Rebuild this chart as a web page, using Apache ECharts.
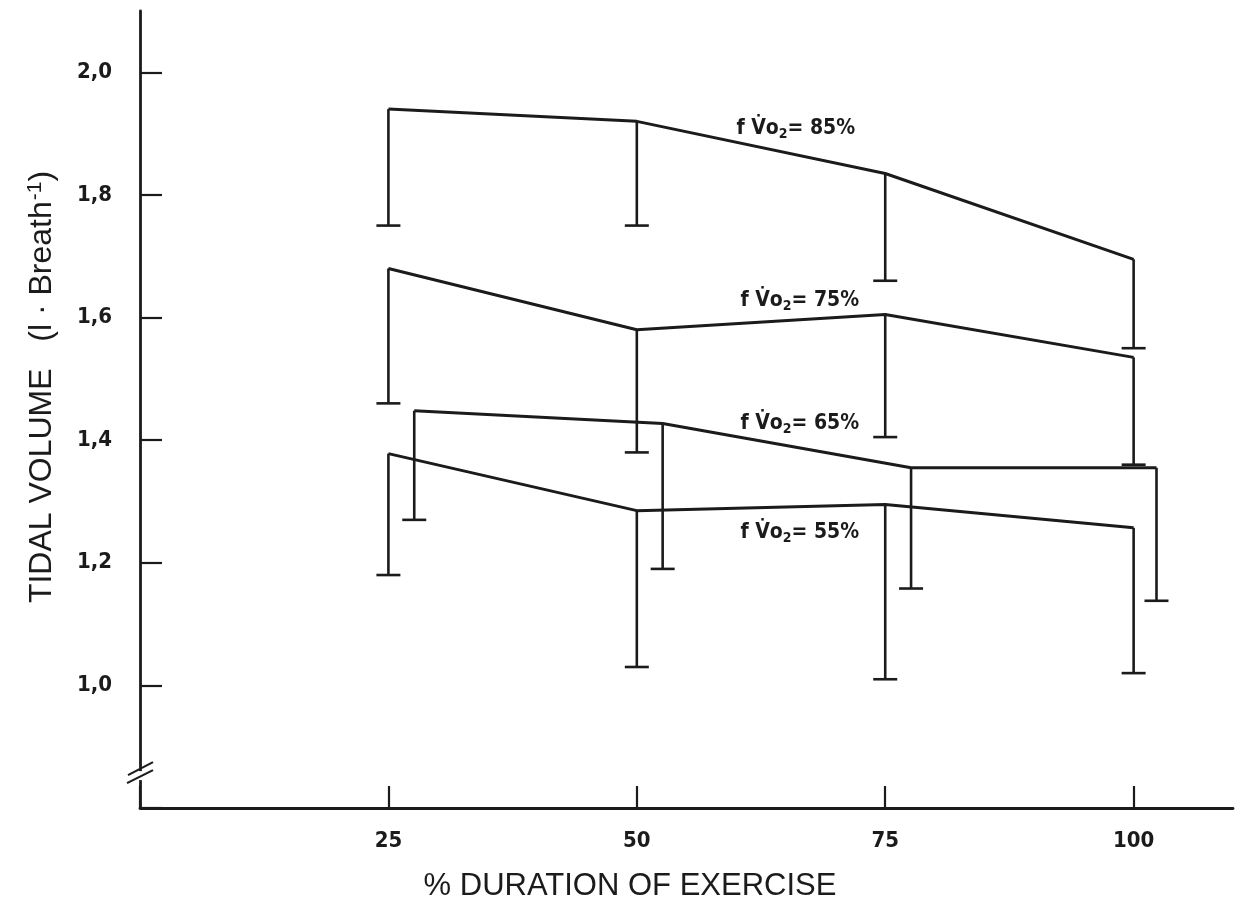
<!DOCTYPE html>
<html>
<head>
<meta charset="utf-8">
<script src="https://cdn.jsdelivr.net/npm/echarts@6/dist/echarts.min.js"></script>
<style>
html,body{margin:0;padding:0;background:#fff;}
#c{width:1253px;height:908px;}
</style>
</head>
<body>
<div id="c"></div>
<script>
// ---- data ----
const xTicks = [25, 50, 75, 100];
const yTicks = [1.0, 1.2, 1.4, 1.6, 1.8, 2.0];
const x85 = [25, 50, 75, 100];
const mean85 = [1.94, 1.92, 1.835, 1.695];
const low85 = [1.75, 1.75, 1.66, 1.55];
const x75 = [25, 50, 75, 100];
const mean75 = [1.68, 1.58, 1.605, 1.535];
const low75 = [1.46, 1.38, 1.405, 1.36];
const x65 = [27.6, 52.6, 77.6, 102.3];
const mean65 = [1.448, 1.427, 1.355, 1.355];
const low65 = [1.27, 1.19, 1.158, 1.138];
const x55 = [25, 50, 75, 100];
const mean55 = [1.378, 1.285, 1.295, 1.257];
const low55 = [1.18, 1.03, 1.01, 1.02];
const seriesNames = ['85%', '75%', '65%', '55%'];
const labelX = [66.0, 66.4, 66.4, 66.4];
const labelY = [1.908, 1.628, 1.427, 1.25];
const breakY = 0.852;

const INK = '#1b1b1b';
const tickFont = "'Liberation Sans Narrow','DejaVu Sans Condensed',sans-serif";
const titleFont = "'Liberation Sans','Arial',sans-serif";

const groups = [
  {x: x85, m: mean85, l: low85},
  {x: x75, m: mean75, l: low75},
  {x: x65, m: mean65, l: low65},
  {x: x55, m: mean55, l: low55}
];

const series = [];
groups.forEach((g, gi) => {
  series.push({
    type: 'line',
    data: g.x.map((x, i) => [x, g.m[i]]),
    symbol: 'none',
    lineStyle: {color: INK, width: 3},
    z: 3,
    silent: true
  });
  series.push({
    type: 'custom',
    data: g.x.map((x, i) => [x, g.m[i], g.l[i]]),
    renderItem: function (params, api) {
      const top = api.coord([api.value(0), api.value(1)]);
      const bot = api.coord([api.value(0), api.value(2)]);
      const half = 12;
      return {
        type: 'group',
        children: [
          {type: 'line', shape: {x1: top[0], y1: top[1], x2: bot[0], y2: bot[1]},
           style: {stroke: INK, lineWidth: 2.6}},
          {type: 'line', shape: {x1: bot[0] - half, y1: bot[1], x2: bot[0] + half, y2: bot[1]},
           style: {stroke: INK, lineWidth: 2.6}}
        ]
      };
    },
    z: 3,
    silent: true
  });
});

// series labels
series.push({
  type: 'scatter',
  symbolSize: 0,
  data: seriesNames.map((n, i) => ({value: [labelX[i], labelY[i]], name: n})),
  label: {
    show: true,
    position: 'inside',
    color: INK,
    formatter: p => '{a|f V\u0307o}{s|2}{a|= ' + p.name + '}',
    rich: {
      a: {fontFamily: tickFont, fontWeight: 'bold', fontSize: 21, color: INK},
      s: {fontFamily: tickFont, fontWeight: 'bold', fontSize: 14, color: INK, padding: [12, 0, 0, 0]}
    }
  },
  itemStyle: {opacity: 1},
  z: 5,
  silent: true
});

// axis break mark
series.push({
  type: 'custom',
  data: [[0, breakY]],
  renderItem: function (params, api) {
    const p = api.coord([api.value(0), api.value(1)]);
    return {
      type: 'group',
      children: [
        {type: 'rect', shape: {x: p[0] - 3, y: p[1] - 5, width: 6, height: 9}, style: {fill: '#fff'}},
        {type: 'line', shape: {x1: p[0] - 12, y1: p[1] - 1, x2: p[0] + 13, y2: p[1] - 14}, style: {stroke: INK, lineWidth: 2.2}},
        {type: 'line', shape: {x1: p[0] - 13, y1: p[1] + 7, x2: p[0] + 13, y2: p[1] - 6}, style: {stroke: INK, lineWidth: 2.2}}
      ]
    };
  },
  z: 6,
  silent: true
});

const chart = echarts.init(document.getElementById('c'));
chart.setOption({
  backgroundColor: '#fff',
  animation: false,
  grid: {left: 140, right: 20, top: 11, bottom: 100, containLabel: false},
  xAxis: {
    type: 'value', min: 0, max: 110, interval: 25,
    axisLine: {show: true, onZero: false, lineStyle: {color: INK, width: 2.8}},
    axisTick: {show: true, inside: true, length: 22, lineStyle: {color: INK, width: 2.2}},
    axisLabel: {
      margin: 22, color: INK, fontFamily: tickFont, fontWeight: 'bold', fontSize: 22,
      formatter: v => xTicks.indexOf(v) >= 0 ? String(v) : '', showMaxLabel: false
    },
    splitLine: {show: false}
  },
  yAxis: {
    type: 'value', min: 0.8, max: 2.1, interval: 0.2,
    axisLine: {show: true, onZero: false, lineStyle: {color: INK, width: 2.8}},
    axisTick: {show: true, inside: true, length: 22, lineStyle: {color: INK, width: 2.2}},
    axisLabel: {
      margin: 28, color: INK, fontFamily: tickFont, fontWeight: 'bold', fontSize: 22,
      formatter: v => {
        const r = Math.round(v * 10) / 10;
        return yTicks.some(t => Math.abs(t - r) < 1e-6) ? r.toFixed(1).replace('.', ',') : '';
      },
      showMaxLabel: false
    },
    splitLine: {show: false}
  },
  graphic: [
    {
      type: 'text', x: 630, y: 886,
      style: {text: '% DURATION OF EXERCISE', fill: INK, font: '500 31px ' + titleFont,
              align: 'center', verticalAlign: 'middle'}
    },
    {
      type: 'text', x: 42, y: 387, rotation: Math.PI / 2, originX: 0, originY: 0,
      style: {
        text: '{t|TIDAL VOLUME   (l · Breath}{u|-1}{t|)}',
        align: 'center', verticalAlign: 'middle',
        rich: {
          t: {fill: INK, color: INK, fontFamily: titleFont, fontSize: 32, fontWeight: 500},
          u: {fill: INK, color: INK, fontFamily: titleFont, fontSize: 21, fontWeight: 500, padding: [0, 0, 14, 1]}
        }
      }
    }
  ],
  series: series
});
</script>
</body>
</html>
